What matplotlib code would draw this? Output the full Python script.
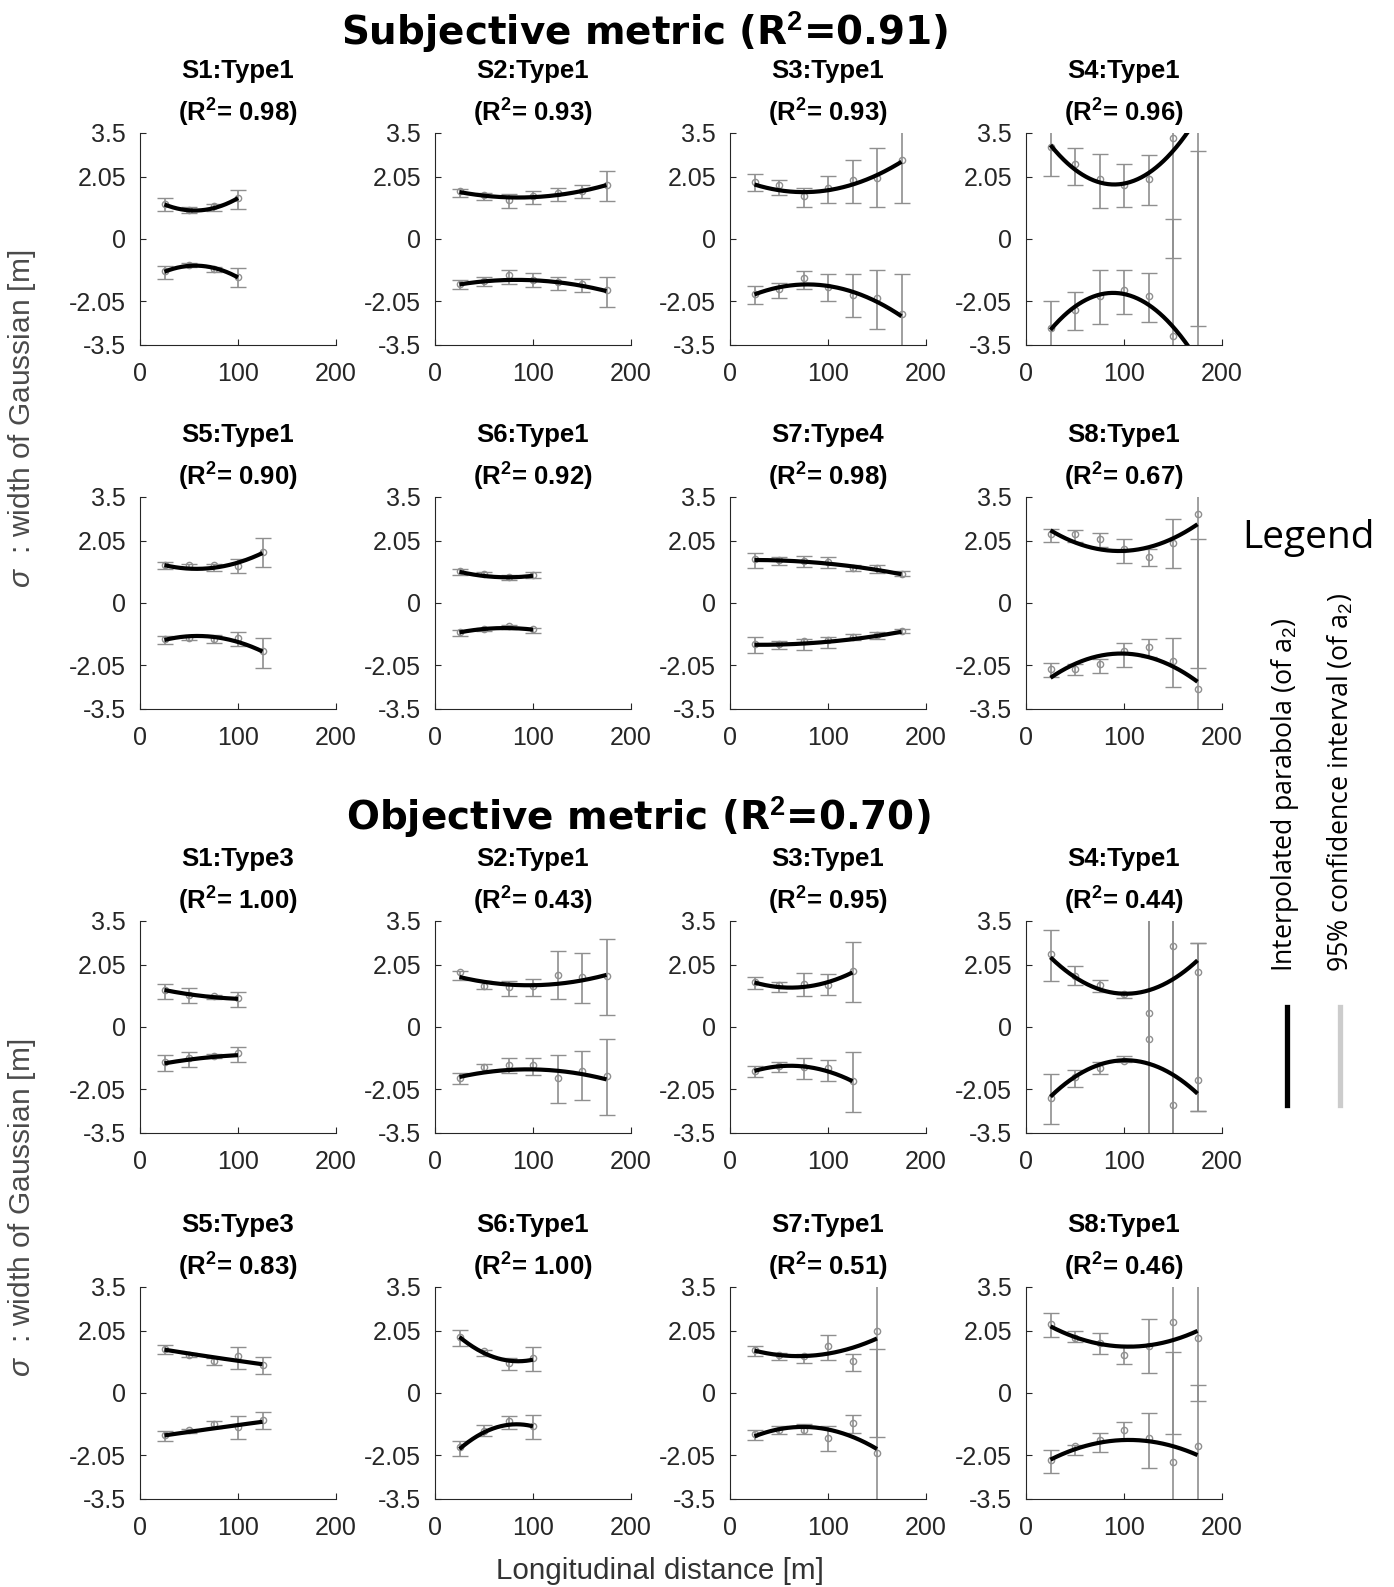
import numpy as np
import matplotlib.pyplot as plt

plt.rcParams['font.family'] = 'Liberation Sans'
plt.rcParams['mathtext.fontset'] = 'custom'
plt.rcParams['mathtext.rm'] = 'Liberation Sans'
plt.rcParams['mathtext.it'] = 'Liberation Sans:italic'
plt.rcParams['mathtext.bf'] = 'Liberation Sans:bold'

## data

dist = [25, 50, 75, 100, 125, 150, 175]
names = ['S1', 'S2', 'S3', 'S4', 'S5', 'S6', 'S7', 'S8']

# subjective metric
subj_types = ['Type1', 'Type1', 'Type1', 'Type1', 'Type1', 'Type1', 'Type4', 'Type1']
subj_r2 = ['0.98', '0.93', '0.93', '0.96', '0.90', '0.92', '0.98', '0.67']
subj_up = [[1.16, 0.97, 1.08, 1.35],
           [1.57, 1.46, 1.28, 1.42, 1.53, 1.60, 1.78],
           [1.88, 1.77, 1.42, 1.68, 1.94, 2.02, 2.60],
           [3.05, 2.46, 1.99, 1.79, 1.99, 3.32, 4.50],
           [1.24, 1.24, 1.24, 1.22, 1.69],
           [1.05, 0.97, 0.86, 0.94],
           [1.44, 1.42, 1.38, 1.35, 1.14, 1.14, 0.96],
           [2.27, 2.29, 2.10, 1.77, 1.53, 1.99, 2.93]]
subj_up_lo = [[0.92, 0.85, 0.92, 1.00],
              [1.38, 1.30, 1.03, 1.16, 1.25, 1.36, 1.25],
              [1.57, 1.46, 1.05, 1.19, 1.19, 1.05, 1.18],
              [2.07, 1.77, 1.03, 1.05, 1.13, -0.64, -2.88],
              [1.11, 1.16, 1.05, 1.00, 1.18],
              [0.91, 0.91, 0.77, 0.81],
              [1.14, 1.27, 1.19, 1.14, 1.05, 1.00, 0.88],
              [2.01, 2.01, 1.86, 1.33, 1.22, 1.14, -2.13]]
subj_up_hi = [[1.35, 1.07, 1.15, 1.63],
              [1.66, 1.53, 1.47, 1.57, 1.70, 1.77, 2.25],
              [2.16, 1.96, 1.69, 2.07, 2.60, 3.02, 4.00],
              [4.00, 3.02, 2.82, 2.49, 2.77, 6.00, 6.50],
              [1.35, 1.28, 1.30, 1.44, 2.16],
              [1.13, 1.02, 0.94, 1.02],
              [1.66, 1.53, 1.55, 1.52, 1.25, 1.24, 1.05],
              [2.43, 2.41, 2.30, 2.10, 1.77, 2.77, 6.00]]
subj_dn = [[-1.07, -0.85, -1.00, -1.25],
           [-1.47, -1.38, -1.19, -1.35, -1.42, -1.49, -1.68],
           [-1.80, -1.66, -1.30, -1.60, -1.86, -1.96, -2.49],
           [-2.93, -2.35, -1.88, -1.68, -1.88, -3.21, -4.50],
           [-1.19, -1.14, -1.19, -1.14, -1.60],
           [-0.97, -0.85, -0.77, -0.86],
           [-1.35, -1.35, -1.27, -1.22, -1.11, -1.05, -0.92],
           [-2.18, -2.18, -2.01, -1.60, -1.44, -1.91, -2.85]]
subj_dn_lo = [[-1.33, -0.94, -1.08, -1.60],
              [-1.64, -1.55, -1.47, -1.58, -1.68, -1.75, -2.23],
              [-2.13, -1.94, -1.66, -2.05, -2.57, -2.96, -3.90],
              [-3.90, -3.00, -2.82, -2.46, -2.74, -6.00, -6.50],
              [-1.35, -1.22, -1.31, -1.42, -2.16],
              [-1.08, -0.92, -0.85, -1.00],
              [-1.64, -1.53, -1.55, -1.49, -1.22, -1.19, -1.00],
              [-2.43, -2.38, -2.30, -2.10, -1.77, -2.77, -6.00]]
subj_dn_hi = [[-0.88, -0.79, -0.94, -0.96],
              [-1.35, -1.26, -1.03, -1.13, -1.24, -1.33, -1.24],
              [-1.55, -1.44, -1.05, -1.16, -1.16, -1.02, -1.16],
              [-2.05, -1.75, -1.02, -1.02, -1.13, 0.66, 2.92],
              [-1.08, -1.08, -1.07, -0.97, -1.16],
              [-0.88, -0.81, -0.72, -0.81],
              [-1.13, -1.27, -1.19, -1.11, -1.03, -0.96, -0.85],
              [-1.99, -2.00, -1.86, -1.33, -1.19, -1.14, 2.12]]
# parabola read at start, middle and end of each panel
subj_fit_x = [[25, 55, 100], [25, 85, 175], [25, 80, 175], [25, 90, 175],
              [25, 62, 125], [25, 78, 100], [25, 100, 175], [25, 100, 175]]
subj_fit_up = [[1.14, 0.94, 1.35], [1.55, 1.37, 1.78], [1.80, 1.55, 2.55], [3.10, 1.80, 4.02],
               [1.25, 1.13, 1.65], [1.03, 0.85, 0.90], [1.42, 1.30, 0.95], [2.40, 1.72, 2.60]]
subj_fit_dn = [[-1.08, -0.88, -1.27], [-1.50, -1.35, -1.72], [-1.83, -1.50, -2.55], [-3.00, -1.78, -4.00],
               [-1.22, -1.09, -1.60], [-0.97, -0.83, -0.88], [-1.38, -1.28, -0.95], [-2.47, -1.67, -2.60]]

# objective metric
obj_types = ['Type3', 'Type1', 'Type1', 'Type1', 'Type3', 'Type1', 'Type1', 'Type1']
obj_r2 = ['1.00', '0.43', '0.95', '0.44', '0.83', '1.00', '0.51', '0.46']
obj_up = [[1.21, 1.07, 1.02, 0.96],
          [1.80, 1.37, 1.31, 1.37, 1.73, 1.64, 1.67],
          [1.49, 1.38, 1.42, 1.40, 1.86],
          [2.41, 1.70, 1.40, 1.10, 0.47, 2.66, 1.82],
          [1.45, 1.27, 1.05, 1.21, 0.94],
          [1.85, 1.38, 0.99, 1.16],
          [1.43, 1.27, 1.23, 1.54, 1.07, 2.04],
          [2.29, 1.82, 1.65, 1.27, 1.55, 2.33, 1.82]]
obj_up_lo = [[0.93, 0.80, 0.91, 0.67],
             [1.56, 1.24, 1.04, 1.04, 0.93, 0.78, 0.39],
             [1.27, 1.16, 1.04, 1.07, 0.82],
             [1.53, 1.40, 1.15, 0.96, -6.00, -6.00, -2.79],
             [1.30, 1.19, 0.94, 0.79, 0.64],
             [1.54, 1.21, 0.75, 0.72],
             [1.21, 1.10, 0.99, 1.08, 0.72, -1.46],
             [1.85, 1.68, 1.30, 0.97, 0.66, -1.37, -0.27]]
obj_up_hi = [[1.43, 1.29, 1.05, 1.16],
             [1.86, 1.51, 1.51, 1.60, 2.52, 2.43, 2.92],
             [1.65, 1.48, 1.77, 1.75, 2.82],
             [3.21, 2.00, 1.55, 1.16, 6.00, 6.00, 2.79],
             [1.57, 1.32, 1.16, 1.52, 1.19],
             [2.09, 1.41, 1.16, 1.52],
             [1.54, 1.32, 1.30, 1.93, 1.30, 6.00],
             [2.64, 2.05, 1.98, 1.60, 2.44, 6.00, 6.00]]
obj_dn = [[-1.17, -1.03, -0.95, -0.86],
          [-1.70, -1.31, -1.25, -1.26, -1.68, -1.44, -1.61],
          [-1.44, -1.28, -1.33, -1.37, -1.79],
          [-2.34, -1.66, -1.36, -1.12, -0.40, -2.59, -1.75],
          [-1.40, -1.21, -1.01, -1.13, -0.88],
          [-1.79, -1.27, -0.94, -1.10],
          [-1.34, -1.21, -1.21, -1.49, -0.99, -1.98],
          [-2.22, -1.76, -1.54, -1.21, -1.49, -2.28, -1.76]]
obj_dn_lo = [[-1.44, -1.31, -1.04, -1.17],
             [-1.88, -1.48, -1.52, -1.59, -2.51, -2.41, -2.90],
             [-1.66, -1.48, -1.72, -1.77, -2.81],
             [-3.19, -1.99, -1.55, -1.17, -6.00, -6.00, -2.79],
             [-1.60, -1.32, -1.16, -1.52, -1.19],
             [-2.09, -1.43, -1.19, -1.52],
             [-1.56, -1.34, -1.34, -1.93, -1.32, -6.00],
             [-2.64, -2.04, -1.96, -1.54, -2.48, -6.00, -6.00]]
obj_dn_hi = [[-0.93, -0.82, -0.88, -0.66],
             [-1.53, -1.23, -1.04, -1.04, -0.92, -0.79, -0.40],
             [-1.28, -1.17, -1.04, -1.08, -0.82],
             [-1.55, -1.41, -1.15, -0.97, 6.00, 6.00, 2.79],
             [-1.27, -1.18, -0.94, -0.77, -0.64],
             [-1.57, -1.07, -0.75, -0.74],
             [-1.23, -1.10, -1.01, -1.10, -0.72, 1.46],
             [-1.87, -1.71, -1.32, -0.97, -0.66, 1.37, 0.27]]
obj_fit_x = [[25, 62, 100], [25, 90, 175], [25, 62, 125], [25, 105, 175],
             [25, 75, 125], [25, 50, 100], [25, 75, 150], [25, 105, 175]]
obj_fit_up = [[1.22, 1.03, 0.93], [1.65, 1.38, 1.72], [1.47, 1.30, 1.80], [2.30, 1.10, 2.20],
              [1.43, 1.18, 0.95], [1.85, 1.32, 1.10], [1.40, 1.22, 1.80], [2.20, 1.53, 2.05]]
obj_fit_dn = [[-1.20, -1.03, -0.93], [-1.65, -1.40, -1.73], [-1.45, -1.28, -1.79], [-2.30, -1.10, -2.20],
              [-1.40, -1.17, -0.95], [-1.85, -1.30, -1.10], [-1.43, -1.12, -1.85], [-2.20, -1.55, -2.05]]

yticks = [-3.5, -2.05, 0, 2.05, 3.5]
yticklabels = ['-3.5', '-2.05', '0', '2.05', '3.5']

GREY = '#8f8f8f'
AXC = '#262626'

## helper to draw one panel

def Panel(ax, title, r2, up, up_lo, up_hi, dn, dn_lo, dn_hi, fit_x, fit_up, fit_dn):
    x = np.array(dist[:len(up)])
    for v, lo, hi in [(up, up_lo, up_hi), (dn, dn_lo, dn_hi)]:
        v = np.array(v)
        err = [v - np.array(lo), np.array(hi) - v]
        ax.errorbar(x, v, yerr=err, fmt='o', ms=4.5, mfc='none', mec=GREY, mew=1.0,
                    ecolor=GREY, elinewidth=1.2, capsize=5.5, capthick=1.2, zorder=2)
    xx = np.linspace(fit_x[0], fit_x[-1], 200)
    for f in [fit_up, fit_dn]:
        c = np.polyfit(fit_x, f, 2)
        ax.plot(xx, np.polyval(c, xx), color='k', lw=3.0, zorder=3, solid_capstyle='butt')

    ax.set_xlim(0, 200)
    ax.set_ylim(-3.5, 3.5)
    ax.set_xticks([0, 100, 200])
    ax.set_yticks(yticks)
    ax.set_yticklabels(yticklabels)
    for s in ['top', 'right']:
        ax.spines[s].set_visible(False)
    for s in ['left', 'bottom']:
        ax.spines[s].set_color(AXC)
        ax.spines[s].set_linewidth(0.8)
    ax.tick_params(direction='in', length=4, width=0.8, color=AXC,
                   labelcolor=AXC, labelsize=18)
    ax.tick_params(axis='y', pad=10)
    ax.tick_params(axis='x', pad=12)

    ax.annotate(title, xy=(0.5, 1), xycoords='axes fraction', xytext=(0, 39.5),
                textcoords='offset points', ha='center', va='baseline',
                fontsize=18.5, fontweight='bold')
    ax.annotate(r'(R$^{\mathbf{2}}$= ' + r2 + ')', xy=(0.5, 1), xycoords='axes fraction',
                xytext=(0, 8.5), textcoords='offset points', ha='center', va='baseline',
                fontsize=18.5, fontweight='bold')

## main program

W, H = 1394, 1587
fig = plt.figure(figsize=(W / 100, H / 100), dpi=100)

lefts = [140, 435, 730, 1026]
tops = [133, 497, 921, 1287]
aw, ah = 196, 212

blocks = [(subj_types, subj_r2, subj_up, subj_up_lo, subj_up_hi, subj_dn, subj_dn_lo, subj_dn_hi,
           subj_fit_x, subj_fit_up, subj_fit_dn),
          (obj_types, obj_r2, obj_up, obj_up_lo, obj_up_hi, obj_dn, obj_dn_lo, obj_dn_hi,
           obj_fit_x, obj_fit_up, obj_fit_dn)]

for b, blk in enumerate(blocks):
    types, r2, up, up_lo, up_hi, dn, dn_lo, dn_hi, fx, fu, fd = blk
    for k in range(8):
        row = 2 * b + k // 4
        col = k % 4
        ax = fig.add_axes([lefts[col] / W, 1 - (tops[row] + ah) / H, aw / W, ah / H])
        Panel(ax, names[k] + ':' + types[k], r2[k], up[k], up_lo[k], up_hi[k],
              dn[k], dn_lo[k], dn_hi[k], fx[k], fu[k], fd[k])

# block titles
fig.text(645 / W, 1 - 45 / H, r'Subjective metric (R$^{\mathbf{2}}$=0.91)', ha='center',
         va='baseline', fontsize=28, fontweight='bold', family='DejaVu Sans')
fig.text(638 / W, 1 - 830 / H, r'Objective metric (R$^{\mathbf{2}}$=0.70)', ha='center',
         va='baseline', fontsize=28, fontweight='bold', family='DejaVu Sans')

# axis labels
for yc in [419, 1208]:
    fig.text(22 / W, 1 - yc / H, r'$\sigma$  : width of Gaussian [m]', rotation=90,
             ha='center', va='center', fontsize=21.5, color='#4a4a4a')
fig.text(660 / W, 1 - 1571 / H, 'Longitudinal distance [m]', ha='center', va='center',
         fontsize=21.3, color='#333333')

# legend
fig.text(1308 / W, 1 - 538 / H, 'Legend', ha='center', va='center', fontsize=28,
         family='Open Sans')
fig.text(1285 / W, 1 - 972 / H, r'Interpolated parabola (of a$_{2}$)', rotation=90,
         ha='center', va='bottom', fontsize=19.3, family='Open Sans')
fig.text(1341 / W, 1 - 972 / H, r'95% confidence interval (of a$_{2}$)', rotation=90,
         ha='center', va='bottom', fontsize=19.3, family='Open Sans')
fig.add_artist(plt.Line2D([1287 / W, 1287 / W], [1 - 1007 / H, 1 - 1105 / H], color='k', lw=3.8,
                          transform=fig.transFigure))
fig.add_artist(plt.Line2D([1340 / W, 1340 / W], [1 - 1007 / H, 1 - 1105 / H], color='#cccccc',
                          lw=3.8, transform=fig.transFigure))

plt.savefig('out.png', dpi=100)
plt.close()
